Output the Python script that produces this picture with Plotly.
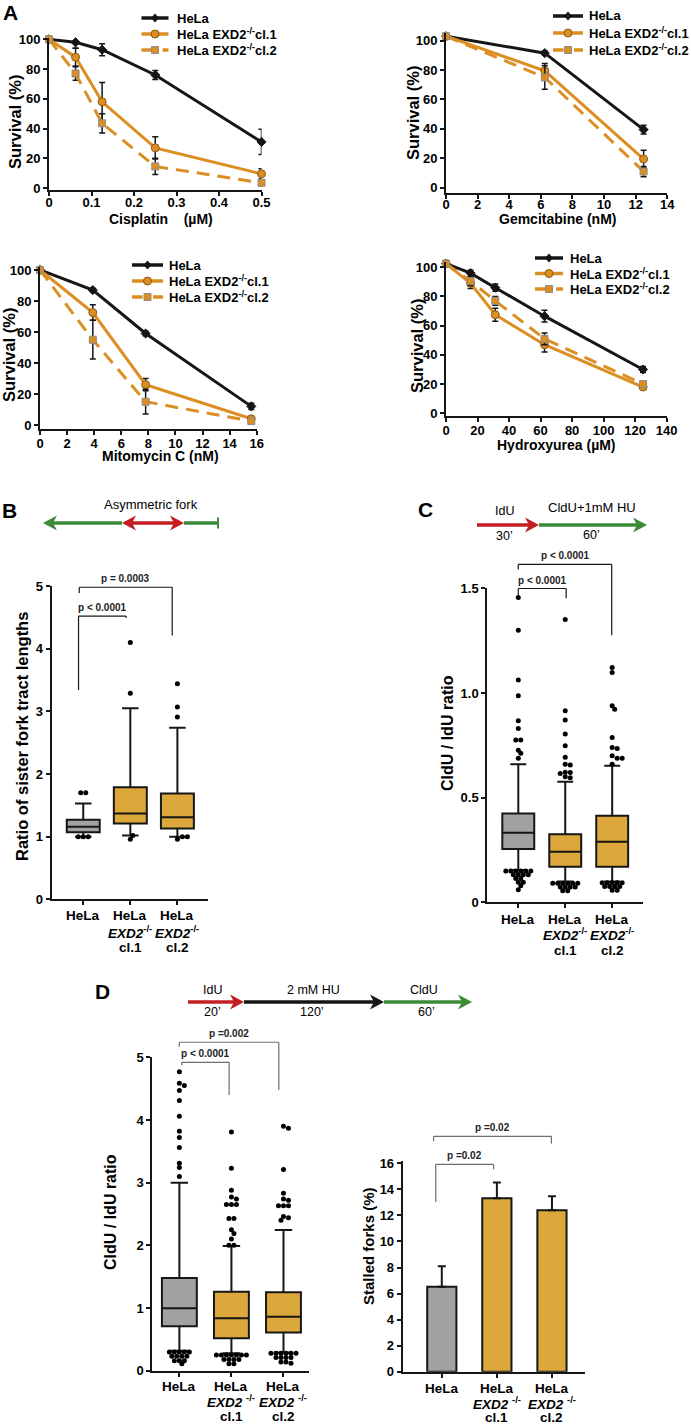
import plotly.graph_objects as go

W, H = 691, 1425
FONT = "Liberation Sans, Arial, sans-serif"
BLACK = "#161616"
ORANGE = "#DC8E22"
GOLD = "#DCA83B"
GREY = "#A2A2A2"
RED = "#C41E24"
GREEN = "#3D8B37"

# ---------------- A: survival curves (mean, sd) ----------------
SERIES = ["HeLa", "HeLa EXD2<sup>-/-</sup>cl.1", "HeLa EXD2<sup>-/-</sup>cl.2"]

CIS_X = [0, 0.0625, 0.125, 0.25, 0.5]
CIS_HELA = [100, 98, 93, 76, 31]
CIS_HELA_SD = [0, 4, 4, 3, 8.5]
CIS_CL1 = [100, 88, 58, 27, 9.5]
CIS_CL1_SD = [0, 6, 13, 7.5, 3.5]
CIS_CL2 = [100, 77, 43.5, 14.5, 3.5]
CIS_CL2_SD = [0, 4.5, 6.5, 5.5, 2]

GEM_X = [0, 6.25, 12.5]
GEM_HELA = [103, 91.5, 39.5]
GEM_HELA_SD = [0, 1.5, 3]
GEM_CL1 = [103, 79.5, 19.5]
GEM_CL1_SD = [0, 5, 6]
GEM_CL2 = [103, 75, 11]
GEM_CL2_SD = [0, 8, 3.5]

MMC_X = [0, 3.9, 7.8, 15.6]
MMC_HELA = [100, 87, 59, 12]
MMC_HELA_SD = [0, 1, 1.5, 2]
MMC_CL1 = [100, 72.5, 26, 4]
MMC_CL1_SD = [0, 5, 4, 1]
MMC_CL2 = [100, 55, 15, 2.5]
MMC_CL2_SD = [0, 12.5, 8, 1]

HU_X = [0, 15.6, 31.25, 62.5, 125]
HU_HELA = [102.5, 96, 86, 66.5, 30]
HU_HELA_SD = [0, 2, 2.5, 4, 2]
HU_CL1 = [102.5, 89, 67.5, 47, 18]
HU_CL1_SD = [0, 3.5, 4.5, 5, 1.5]
HU_CL2 = [102.5, 90.5, 77, 51, 20]
HU_CL2_SD = [0, 3, 3, 4, 1.5]

# ---------------- group labels (three lines each) ----------------
GROUP_LINES = [["HeLa"], ["HeLa", "<i>EXD2</i><sup>-/-</sup>", "cl.1"], ["HeLa", "<i>EXD2</i><sup>-/-</sup>", "cl.2"]]
GROUP_LINES_SP = [["HeLa"], ["HeLa", "<i>EXD2</i> <sup>-/-</sup>", "cl.1"], ["HeLa", "<i>EXD2</i> <sup>-/-</sup>", "cl.2"]]

# ---------------- B: sister fork ratio (box stats + outliers) ----------------
B_Q1 = [1.07, 1.21, 1.13]
B_MED = [1.16, 1.37, 1.31]
B_Q3 = [1.27, 1.79, 1.69]
B_LO = [1.0, 1.02, 1.0]
B_HI = [1.53, 3.05, 2.74]
B_OUT = [
    [1.70, 1.70, 1.0, 1.0, 1.0],
    [4.10, 3.29, 0.96, 1.02],
    [3.44, 3.07, 2.91, 0.96, 1.0, 1.0],
]

# ---------------- C: CldU/IdU with 1 mM HU ----------------
C_Q1 = [0.255, 0.17, 0.17]
C_MED = [0.333, 0.242, 0.29]
C_Q3 = [0.425, 0.326, 0.414]
C_LO = [0.155, 0.10, 0.10]
C_HI = [0.66, 0.576, 0.653]
C_OUT = [
    [1.456, 1.30, 1.062, 0.987, 0.867, 0.831, 0.775, 0.775, 0.727, 0.712, 0.688,
     0.150, 0.150, 0.150, 0.150, 0.150, 0.150, 0.132, 0.132, 0.132, 0.132, 0.114, 0.114,
     0.096, 0.096, 0.080, 0.060],
    [1.351, 0.915, 0.871, 0.804, 0.748, 0.693, 0.660, 0.656, 0.622, 0.620, 0.615, 0.600, 0.595,
     0.092, 0.092, 0.092, 0.092, 0.092, 0.092, 0.074, 0.074, 0.074, 0.074, 0.056, 0.056],
    [1.122, 1.098, 0.939, 0.922, 0.788, 0.740, 0.735, 0.700, 0.688, 0.688, 0.660,
     0.094, 0.094, 0.094, 0.094, 0.094, 0.076, 0.076, 0.076, 0.076, 0.058, 0.058],
]

# ---------------- D: CldU/IdU after 2 mM HU, stalled forks ----------------
D_Q1 = [0.71, 0.516, 0.61]
D_MED = [0.995, 0.835, 0.86]
D_Q3 = [1.48, 1.26, 1.25]
D_LO = [0.32, 0.28, 0.29]
D_HI = [3.0, 1.99, 2.245]
D_OUT = [
    [4.77, 4.585, 4.55, 4.47, 4.31, 4.06, 3.82, 3.72, 3.56, 3.31, 3.24, 3.10,
     0.30, 0.30, 0.30, 0.30, 0.30, 0.23, 0.23, 0.23, 0.23, 0.16, 0.16, 0.16, 0.11],
    [3.81, 3.23, 2.88, 2.77, 2.74, 2.65, 2.65, 2.65, 2.43, 2.43, 2.25, 2.19, 2.10, 2.0, 2.0,
     0.25, 0.25, 0.25, 0.25, 0.25, 0.25, 0.25, 0.18, 0.18, 0.18, 0.18, 0.11, 0.11],
    [3.90, 3.87, 3.21, 2.83, 2.74, 2.72, 2.63, 2.63, 2.63, 2.46, 2.44, 2.40,
     0.28, 0.28, 0.28, 0.28, 0.28, 0.28, 0.21, 0.21, 0.21, 0.21, 0.14, 0.14, 0.12],
]

STALLED = [6.52, 13.32, 12.39]
STALLED_SD = [1.57, 1.2, 1.08]

BOX_FILL = [GREY, GOLD, GOLD]

# pixel geometry of each subplot: left, right, x range, top, bottom, y range
GEOM = {
    1: (49, 261.5, 0, 0.5, 38, 190, -1.35, 100.9),
    2: (446, 667.3, 0, 14, 33, 192.7, -3.4, 105.2),
    3: (40, 256.7, 0, 16, 267, 429, -2.6, 101.9),
    4: (446, 666.7, 0, 140, 262, 416, -1.85, 103.6),
    5: (51.7, 208, -0.67, 2.65, 586, 899.4, 0, 5),
    6: (487.3, 642.7, -0.66, 2.65, 588.3, 902.4, 0, 1.5),
    7: (152.3, 309, -0.52, 2.49, 1057.3, 1370.7, 0, 5),
    8: (402.7, 585, -0.71, 2.6, 1160.7, 1371.7, 0, 16.2),
}


def P(px, py):
    return px / W, 1 - py / H


def to_paper(k, xv, yv):
    l, r, x0, x1, t, b, y0, y1 = GEOM[k]
    px = l + (xv - x0) / (x1 - x0) * (r - l)
    py = b - (yv - y0) / (y1 - y0) * (b - t)
    return P(px, py)


def swarm(values, k, d=5.0, tol=4.0):
    """centre rows of equal values, nudge rows sideways when dots would pile up"""
    l, r, x0, x1, t, b, y0, y1 = GEOM[k]
    sx = (r - l) / (x1 - x0)
    sy = (b - t) / (y1 - y0)
    rows = {}
    for v in values:
        rows[v] = rows.get(v, 0) + 1
    placed, row_offs = [], {}
    h = d / 2
    for v, n in rows.items():
        yp = v * sy
        base = [(j - (n - 1) / 2) * d for j in range(n)]
        m = 0
        while True:
            s = 0 if m == 0 else ((m + 1) // 2) * h * (1 if m % 2 else -1)
            if all((o + s - a) ** 2 + (yp - c) ** 2 >= tol * tol for o in base for a, c in placed):
                break
            m += 1
        row_offs[v] = [(o + s) / sx for o in base]
        placed += [(o + s, yp) for o in base]
    used = {v: 0 for v in rows}
    offs = []
    for v in values:
        offs.append(row_offs[v][used[v]])
        used[v] += 1
    return offs


fig = go.Figure()

# ---- A panels ----
STYLES = [
    dict(color=BLACK, dash="solid", symbol="diamond", size=7, edge=BLACK),
    dict(color=ORANGE, dash="solid", symbol="circle", size=8, edge="#8A5A12"),
    dict(color=ORANGE, dash="13px,8px", symbol="square", size=7, edge="#8C8C8C"),
]
A_DATA = [
    (1, CIS_X, [(CIS_HELA, CIS_HELA_SD), (CIS_CL1, CIS_CL1_SD), (CIS_CL2, CIS_CL2_SD)]),
    (2, GEM_X, [(GEM_HELA, GEM_HELA_SD), (GEM_CL1, GEM_CL1_SD), (GEM_CL2, GEM_CL2_SD)]),
    (3, MMC_X, [(MMC_HELA, MMC_HELA_SD), (MMC_CL1, MMC_CL1_SD), (MMC_CL2, MMC_CL2_SD)]),
    (4, HU_X, [(HU_HELA, HU_HELA_SD), (HU_CL1, HU_CL1_SD), (HU_CL2, HU_CL2_SD)]),
]
for k, xs, series in A_DATA:
    for name, st, (ys, sd) in zip(SERIES, STYLES, series):
        fig.add_trace(go.Scatter(
            x=xs, y=ys, name=name, mode="lines+markers",
            line=dict(color=st["color"], width=3, dash=st["dash"]),
            marker=dict(symbol=st["symbol"], size=st["size"], color=st["color"],
                        line=dict(color=st["edge"], width=1)),
            error_y=dict(type="data", array=sd, color=BLACK, thickness=1.5, width=3),
            xaxis=f"x{k}", yaxis=f"y{k}", showlegend=False, cliponaxis=False,
        ))

# ---- box panels ----
for k, q1, med, q3, lo, hi, outs, bw in [
    (5, B_Q1, B_MED, B_Q3, B_LO, B_HI, B_OUT, 0.7),
    (6, C_Q1, C_MED, C_Q3, C_LO, C_HI, C_OUT, 0.68),
    (7, D_Q1, D_MED, D_Q3, D_LO, D_HI, D_OUT, 0.67),
]:
    for i in range(3):
        fig.add_trace(go.Box(
            x=[i], q1=[q1[i]], median=[med[i]], q3=[q3[i]],
            lowerfence=[lo[i]], upperfence=[hi[i]],
            width=bw, whiskerwidth=0.5, fillcolor=BOX_FILL[i],
            line=dict(color=BLACK, width=2), boxpoints=False,
            xaxis=f"x{k}", yaxis=f"y{k}", showlegend=False, hoverinfo="skip",
        ))
        offs = swarm(outs[i], k)
        fig.add_trace(go.Scatter(
            x=[i + o for o in offs], y=outs[i], mode="markers",
            marker=dict(color="black", size=5),
            xaxis=f"x{k}", yaxis=f"y{k}", showlegend=False, cliponaxis=False,
        ))

# ---- stalled forks bars ----
fig.add_trace(go.Bar(
    x=[0, 1, 2], y=STALLED, width=0.53,
    marker=dict(color=BOX_FILL, line=dict(color=BLACK, width=2)),
    error_y=dict(type="data", array=STALLED_SD, arrayminus=[0, 0, 0], symmetric=False,
                 color=BLACK, thickness=2, width=4),
    xaxis="x8", yaxis="y8", showlegend=False,
))

# ---- axes ----
TICKFONT = dict(family=FONT, size=13, color="black", weight="bold")
layout = {}
A_Y = dict(tickvals=[0, 20, 40, 60, 80, 100])
CAT_X = dict(tickvals=[0, 1, 2], showticklabels=False)
AX_TICKS = {
    1: (dict(tickvals=[0, 0.1, 0.2, 0.3, 0.4, 0.5], ticktext=["0", "0.1", "0.2", "0.3", "0.4", "0.5"],
             ticklabelstandoff=-5), A_Y),
    2: (dict(tickvals=list(range(0, 15, 2)), ticklabelstandoff=-5), A_Y),
    3: (dict(tickvals=list(range(0, 17, 2)), ticklabelstandoff=-3), A_Y),
    4: (dict(tickvals=list(range(0, 141, 20)), ticklabelstandoff=-3), A_Y),
    5: (CAT_X, dict(tickvals=[0, 1, 2, 3, 4, 5])),
    6: (CAT_X, dict(tickvals=[0, 0.5, 1, 1.5], ticktext=["0", "0.5", "1.0", "1.5"])),
    7: (CAT_X, dict(tickvals=[0, 1, 2, 3, 4, 5])),
    8: (CAT_X, dict(tickvals=list(range(0, 17, 2)))),
}
for k, (l, r, x0, x1, t, b, y0, y1) in GEOM.items():
    xt, yt = AX_TICKS[k]
    sfx = "" if k == 1 else str(k)
    xl, yb = P(l, b)
    xr, yt_ = P(r, t)
    for name, dom, rng, anchor, extra in [
        (f"xaxis{sfx}", [xl, xr], [x0, x1], f"y{sfx}", xt),
        (f"yaxis{sfx}", [yb, yt_], [y0, y1], f"x{sfx}", yt),
    ]:
        ax = dict(domain=dom, range=rng, anchor=anchor, showline=True, linecolor=BLACK,
                  linewidth=2, ticks="outside", ticklen=4, tickwidth=1.5, tickcolor=BLACK,
                  showgrid=False, zeroline=False, tickfont=TICKFONT, fixedrange=True,
                  automargin=False)
        ax.update(extra)
        layout[name] = ax

fig.update_layout(
    width=W, height=H, margin=dict(l=0, r=0, t=0, b=0, autoexpand=False),
    paper_bgcolor="white", plot_bgcolor="white", showlegend=False,
    font=dict(family=FONT, color="black"), boxmode="overlay", **layout,
)


def label(px, py, text, size=13, bold=False, angle=0, anchor="center"):
    x, y = P(px, py)
    fig.add_annotation(x=x, y=y, xref="paper", yref="paper", text=text, showarrow=False,
                       textangle=angle, xanchor=anchor, yanchor="middle",
                       font=dict(family=FONT, size=size, color="black",
                                 weight="bold" if bold else "normal"))


def pline(xa, ya, xb, yb, color, width, dash="solid"):
    x0, y0 = P(xa, ya)
    x1, y1 = P(xb, yb)
    fig.add_shape(type="line", xref="paper", yref="paper", x0=x0, y0=y0, x1=x1, y1=y1,
                  line=dict(color=color, width=width, dash=dash))


def ppath(points, color, line_color=None, line_width=0):
    pts = [P(px, py) for px, py in points]
    d = "M " + " L ".join(f"{x:.5f},{y:.5f}" for x, y in pts) + " Z"
    fig.add_shape(type="path", xref="paper", yref="paper", path=d, fillcolor=color,
                  line=dict(color=line_color or color, width=line_width))


# group labels under the box / bar panels, one annotation per line
for k, lines, rows in [(5, GROUP_LINES, (916, 931.5, 947)), (6, GROUP_LINES, (919, 934.5, 950)),
                       (7, GROUP_LINES_SP, (1386, 1401, 1416)), (8, GROUP_LINES_SP, (1388, 1403, 1417.5))]:
    for i, grp in enumerate(lines):
        gx, _ = to_paper(k, i, 0)
        for txt, py in zip(grp, rows):
            fig.add_annotation(x=gx, y=P(0, py)[1], xref="paper", yref="paper", text=txt,
                               showarrow=False, xanchor="center", yanchor="middle",
                               font=dict(family=FONT, size=13.5, color="black", weight="bold"))

# legends for the survival panels (drawn by hand to keep the tight spacing)
LEGENDS = [(141.5, 168.5, 175, 18, 16), (553, 583, 587, 16, 17),
           (132, 163, 167, 265, 16), (535, 563, 568, 258, 15.5)]
for lx0, lx1, tx, ly, dy in LEGENDS:
    for j, (name, st) in enumerate(zip(SERIES, STYLES)):
        y = ly + j * dy
        cx = (lx0 + lx1) / 2
        pline(lx0, y, lx1, y, st["color"], 3.5, "dash" if j == 2 else "solid")
        if st["symbol"] == "diamond":
            ppath([(cx, y - 4.5), (cx + 4, y), (cx, y + 4.5), (cx - 4, y)], BLACK)
        elif st["symbol"] == "circle":
            x0, y0 = P(cx - 4, y + 4)
            x1, y1 = P(cx + 4, y - 4)
            fig.add_shape(type="circle", xref="paper", yref="paper", x0=x0, y0=y0, x1=x1, y1=y1,
                          fillcolor=ORANGE, line=dict(color=st["edge"], width=1))
        else:
            ppath([(cx - 3.5, y - 3.5), (cx + 3.5, y - 3.5), (cx + 3.5, y + 3.5), (cx - 3.5, y + 3.5)],
                  ORANGE, st["edge"], 1)
        label(tx, y, name, size=13, bold=True, anchor="left")

# panel letters
for txt, px, py in [("A", 10, 12), ("B", 9, 510), ("C", 425, 509), ("D", 103, 991)]:
    label(px, py, txt, size=21, bold=True)

# axis titles
for px, py in [(15, 122), (413, 113), (9, 355), (417, 346)]:
    label(px, py, "Survival (%)", size=16.5, bold=True, angle=-90)
label(161, 219, "Cisplatin\u00a0\u00a0\u00a0\u00a0(µM)", size=14, bold=True)
label(557, 219, "Gemcitabine (nM)", size=14, bold=True)
label(160, 456, "Mitomycin C (nM)", size=14, bold=True)
label(556, 445, "Hydroxyurea (µM)", size=14, bold=True)
label(22, 737, "Ratio of sister fork tract lengths", size=16.5, bold=True, angle=-90)
label(447, 733, "CldU / IdU ratio", size=16, bold=True, angle=-90)
label(110, 1212, "CldU / IdU ratio", size=16, bold=True, angle=-90)
label(368, 1246, "Stalled forks (%)", size=15, bold=True, angle=-90)

# significance brackets
BRACKETS = [
    (5, BLACK, [(-0.1, 0.91, 4.52, 3.34, 4.49, "p < 0.0001"),
                (-0.085, 1.89, 4.98, 4.89, 4.21, "p = 0.0003")]),
    (6, BLACK, [(0, 1.02, 1.499, 1.459, 1.453, "p < 0.0001"),
                (0, 1.99, 1.614, 1.59, 1.276, "p < 0.0001")]),
    (7, "#6E6E6E", [(0.046, 0.956, 4.92, 4.875, 4.40, "p < 0.0001"),
                    (0, 1.91, 5.24, 5.17, 4.48, "p =0.002")]),
    (8, "#6E6E6E", [(-0.11, 0.94, 15.92, 13.02, 15.54, "p =0.02"),
                    (-0.15, 1.99, 18.07, 17.69, 17.51, "p =0.02")]),
]
for k, col, items in BRACKETS:
    for x0, x1, yb, yl, yr, txt in items:
        pts = [to_paper(k, x0, yl), to_paper(k, x0, yb), to_paper(k, x1, yb), to_paper(k, x1, yr)]
        for (ax_, ay_), (bx_, by_) in zip(pts[:-1], pts[1:]):
            fig.add_shape(type="line", xref="paper", yref="paper", x0=ax_, y0=ay_, x1=bx_, y1=by_,
                          line=dict(color=col, width=1.2))
        tx, ty = to_paper(k, (x0 + x1) / 2, yb)
        fig.add_annotation(x=tx, y=ty, xref="paper", yref="paper", text=txt, showarrow=False,
                           xanchor="center", yanchor="bottom", yshift=1,
                           font=dict(family=FONT, size=10, color="#222", weight="bold"))


# labelling schemes: arrows as line + notched head
def head(x_tip, py, direction, color, length=14, half=7.5, notch=4):
    back = x_tip - direction * length
    mid = x_tip - direction * (length - notch)
    ppath([(x_tip, py), (back, py - half), (mid, py), (back, py + half)], color)
    return mid


def arrow(x_tip, x_tail, py, color, both=False):
    direction = 1 if x_tip > x_tail else -1
    end = head(x_tip, py, direction, color)
    start = head(x_tail, py, -direction, color) if both else x_tail
    pline(start, py, end, py, color, 3.5)


label(151, 504, "Asymmetric fork", size=13)
arrow(43, 122, 523, GREEN)
arrow(184, 122, 523, RED, both=True)
pline(184, 523, 218, 523, GREEN, 3.5)
pline(218, 517.5, 218, 528.5, GREEN, 2)

arrow(539, 477, 525, RED)
arrow(647, 539, 525, GREEN)
label(504, 511, "IdU", size=12.5)
label(504, 536, "30\u2019", size=12.5)
label(592, 508, "CldU+1mM HU", size=13)
label(591, 535, "60\u2019", size=12.5)

arrow(244, 188, 1002, RED)
arrow(384, 244, 1002, BLACK)
arrow(472, 384, 1002, GREEN)
label(212, 990, "IdU", size=12.5)
label(212, 1012, "20\u2019", size=12.5)
label(313, 990, "2 mM HU", size=12.5)
label(312, 1012, "120\u2019", size=12.5)
label(424, 990, "CldU", size=12.5)
label(427, 1012, "60\u2019", size=12.5)

# the figure is exactly the window size, so drop the default page margin
fig.write_html("out.html", config={"displayModeBar": False},
               post_script="document.body.style.margin = '0';")
